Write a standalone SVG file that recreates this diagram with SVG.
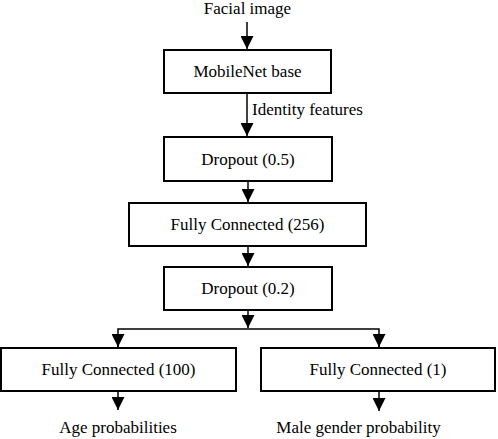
<svg xmlns="http://www.w3.org/2000/svg" width="498" height="439" viewBox="0 0 498 439" font-family="'Liberation Serif', 'Times New Roman', serif">
<style>
.box{fill:#fff;stroke:#000;stroke-width:2}
text{font-family:'Liberation Serif','Times New Roman',serif;font-size:17px;fill:#000}
.c{text-anchor:middle}
.ln{stroke:#000;stroke-width:1.5;fill:none}
</style>
<defs>
<marker id="ah" markerUnits="userSpaceOnUse" viewBox="0 0 13 13" refX="13" refY="6.5" markerWidth="13" markerHeight="13" orient="auto">
<path d="M0,0 L13,6.5 L0,13 z" fill="#000"/>
</marker>
</defs>
<g id="connectors">
<line class="ln" x1="247" y1="22" x2="247" y2="49" marker-end="url(#ah)"/>
<line class="ln" x1="247" y1="93" x2="247" y2="136" marker-end="url(#ah)"/>
<line class="ln" x1="248" y1="181" x2="248" y2="202" marker-end="url(#ah)"/>
<line class="ln" x1="248" y1="246" x2="248" y2="266" marker-end="url(#ah)"/>
<line class="ln" x1="248" y1="310" x2="248" y2="328" marker-end="url(#ah)"/>
<polyline class="ln" points="118,347 118,329 379,329 379,347"/>
<line class="ln" x1="118" y1="340" x2="118" y2="347" marker-end="url(#ah)"/>
<line class="ln" x1="379" y1="340" x2="379" y2="347" marker-end="url(#ah)"/>
<line class="ln" x1="118" y1="391" x2="118" y2="410" marker-end="url(#ah)"/>
<line class="ln" x1="379" y1="391" x2="379" y2="411" marker-end="url(#ah)"/>
<text x="252" y="115">Identity features</text>
</g>
<g id="input"><text class="c" x="247.5" y="14">Facial image</text></g>
<g id="mobilenet"><rect class="box" x="164" y="50" width="167" height="43"/><text class="c" x="247.5" y="77">MobileNet base</text></g>
<g id="dropout05"><rect class="box" x="164" y="137" width="168" height="44"/><text class="c" x="248" y="165">Dropout (0.5)</text></g>
<g id="fc256"><rect class="box" x="129" y="203" width="237" height="43"/><text class="c" x="247.5" y="230">Fully Connected (256)</text></g>
<g id="dropout02"><rect class="box" x="164" y="267" width="168" height="43"/><text class="c" x="248" y="294">Dropout (0.2)</text></g>
<g id="fc100"><rect class="box" x="1" y="348" width="235" height="43"/><text class="c" x="118.5" y="375">Fully Connected (100)</text></g>
<g id="fc1"><rect class="box" x="261" y="348" width="234" height="43"/><text class="c" x="378" y="375">Fully Connected (1)</text></g>
<g id="age"><text class="c" x="118" y="433">Age probabilities</text></g>
<g id="gender"><text class="c" x="358.5" y="433">Male gender probability</text></g>
</svg>
